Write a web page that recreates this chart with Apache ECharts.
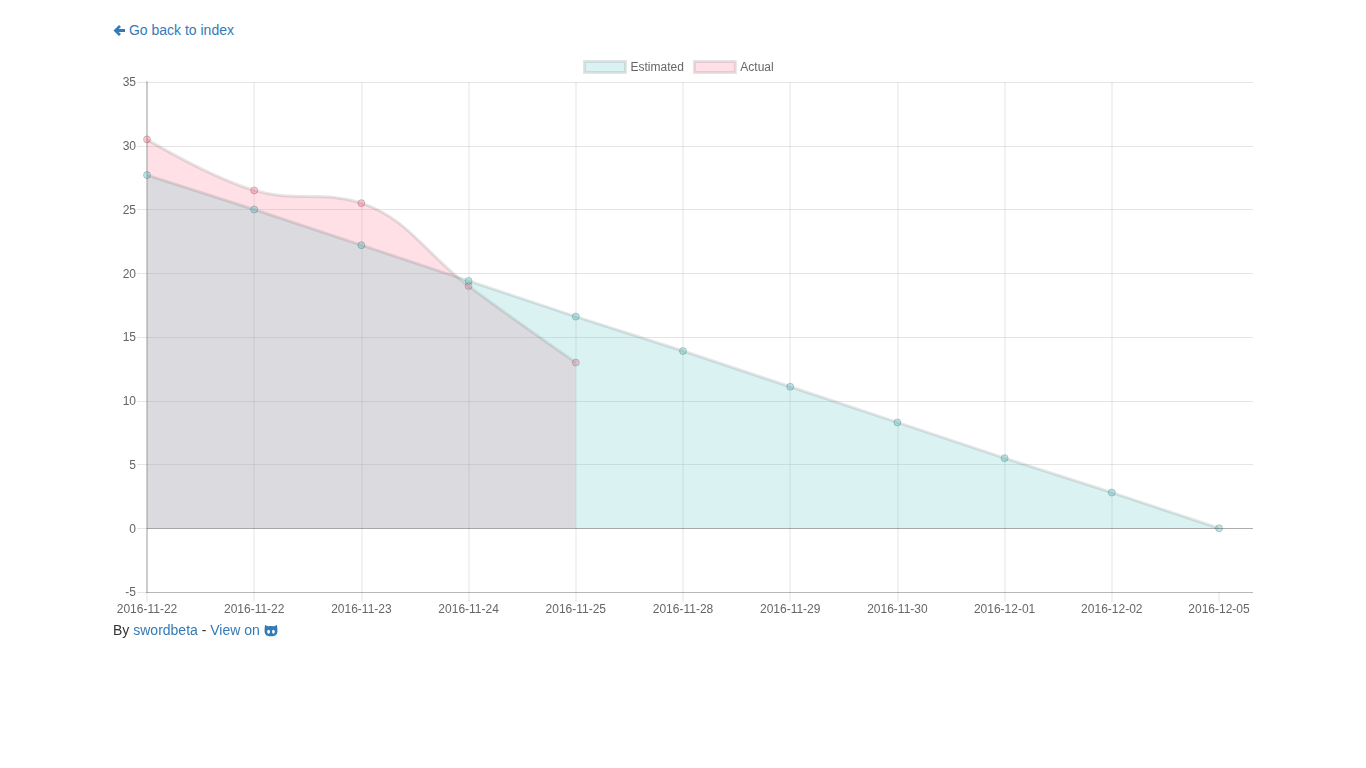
<!DOCTYPE html>
<html><head><meta charset="utf-8">
<script src="https://cdn.jsdelivr.net/npm/echarts@6/dist/echarts.min.js"></script>
<style>
html,body{margin:0;padding:0;background:#fff;font-family:"Liberation Sans",Arial,sans-serif;font-size:14px;color:#333}
a{color:#337ab7;text-decoration:none}
#back{position:absolute;left:113px;top:20px;line-height:20px;white-space:nowrap}
#foot{position:absolute;left:113px;top:620px;line-height:20px;white-space:nowrap}
svg{vertical-align:-2px}
#chart{position:absolute;left:113px;top:50px;width:1140px;height:575px}
</style></head><body>
<div id="back"><a href="#"><svg width="12" height="13" viewBox="0 0 12 13"><path d="M0.5 6.5 L6 1 L8 3 L5.6 5 H12 V8 H5.6 L8 10 L6 12 Z" fill="#337ab7"/></svg> Go back to index</a></div>
<div id="chart"></div>
<div id="foot">By <a href="#">swordbeta</a> - <a href="#">View on <svg width="14" height="13" viewBox="0 0 14 13"><path d="M1 1 L4 2.2 Q7 1.6 10 2.2 L13 1 L13.4 5 Q14 11 10 12 Q7 12.6 4 12 Q0 11 0.6 5 Z" fill="#337ab7"/><ellipse cx="4.6" cy="7.8" rx="1.4" ry="2" fill="#fff"/><ellipse cx="9.4" cy="7.8" rx="1.4" ry="2" fill="#fff"/></svg></a></div>
<script>
var categories = ['2016-11-22','2016-11-22','2016-11-23','2016-11-24','2016-11-25','2016-11-28','2016-11-29','2016-11-30','2016-12-01','2016-12-02','2016-12-05'];
var estimated = [27.7,25,22.2,19.4,16.6,13.9,11.1,8.3,5.5,2.8,0];
var actual = [30.5,26.5,25.5,19,13];
var yTicks = [-5,0,5,10,15,20,25,30,35];

function pts(a){return a.map(function(v,i){return [i,v];});}
var idx = categories.map(function(c,i){return i;});
var grey = 'rgba(0,0,0,0.1)';
var nudged = {a:{verticalAlign:'top',padding:[2,0,0,0],lineHeight:14,color:'#666',fontSize:12}};
var chart = echarts.init(document.getElementById('chart'),null,{renderer:'canvas'});
chart.setOption({
  animation:false,
  textStyle:{fontFamily:'"Liberation Sans",Arial,sans-serif'},
  legend:{left:465,top:5,itemWidth:41,itemHeight:11,itemGap:9,icon:'rect',selectedMode:false,
    formatter:function(n){return '{a|'+n+'}';},
    textStyle:{color:'#666',fontSize:12,rich:nudged},
    data:[
      {name:'Estimated',itemStyle:{color:'rgba(75,192,192,0.2)',borderColor:'rgba(0,0,0,0.1)',borderWidth:3}},
      {name:'Actual',itemStyle:{color:'rgba(255,99,132,0.2)',borderColor:'rgba(0,0,0,0.1)',borderWidth:3}}
    ]},
  grid:{left:34,right:0,top:32,height:510,containLabel:false},
  xAxis:{type:'value',min:0,max:1106/107.2,interval:1,
    axisLine:{show:true,onZero:false,lineStyle:{color:'rgba(0,0,0,0.2)',width:1}},
    axisTick:{show:true,length:10,customValues:idx,lineStyle:{color:'rgba(0,0,0,0.05)',width:2}},
    axisLabel:{customValues:idx,color:'#666',fontSize:12,margin:12,hideOverlap:false,
      formatter:function(v){return categories[Math.round(v)];}},
    splitLine:{show:true,showMinLine:false,showMaxLine:false,lineStyle:{color:'rgba(0,0,0,0.05)',width:2}},
    minorTick:{show:false}},
  yAxis:{type:'value',min:-5,max:35,interval:5,
    axisLine:{show:true,onZero:false,lineStyle:{color:'rgba(0,0,0,0.2)',width:2}},
    axisTick:{show:true,length:10,lineStyle:{color:grey}},
    axisLabel:{color:'#666',fontSize:12,margin:11,rich:nudged,
      formatter:function(v){return yTicks.indexOf(v)>=0?'{a|'+v+'}':'';}},
    splitLine:{show:true,lineStyle:{color:grey,width:1}}},
  series:[
    {name:'Actual',type:'line',data:pts(actual),smooth:0.4,
      symbol:'circle',symbolSize:7,showSymbol:true,
      lineStyle:{color:grey,width:3},
      itemStyle:{color:'rgba(255,99,132,0.36)',borderColor:'rgba(0,0,0,0.18)',borderWidth:1},
      areaStyle:{color:'rgba(255,99,132,0.2)',origin:0,opacity:1},z:2},
    {name:'Estimated',type:'line',data:pts(estimated),smooth:false,
      symbol:'circle',symbolSize:7,showSymbol:true,
      lineStyle:{color:grey,width:3},
      itemStyle:{color:'rgba(75,192,192,0.36)',borderColor:'rgba(0,0,0,0.18)',borderWidth:1},
      areaStyle:{color:'rgba(75,192,192,0.2)',origin:0,opacity:1},z:3},
    {type:'line',markLine:{silent:true,symbol:'none',label:{show:false},
      lineStyle:{color:'rgba(0,0,0,0.25)',width:1,type:'solid'},data:[{yAxis:0}]},data:[]}
  ]
});
</script></body></html>
